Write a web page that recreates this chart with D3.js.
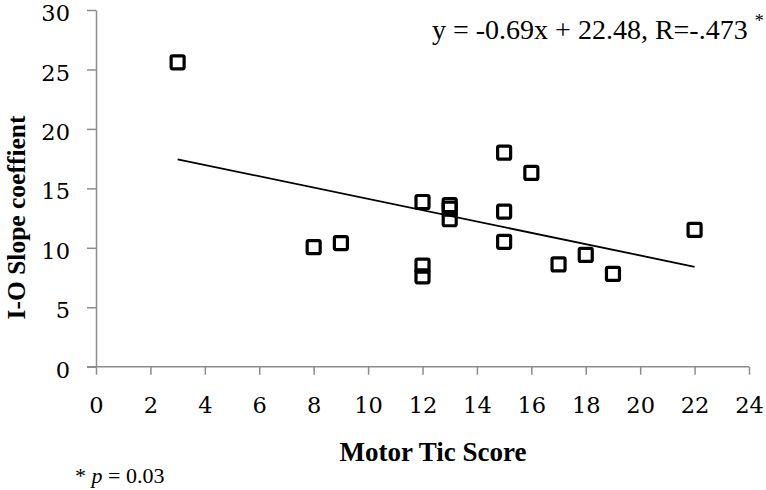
<!DOCTYPE html>
<html>
<head>
<meta charset="utf-8">
<script src="https://cdn.jsdelivr.net/npm/d3@7"></script>
<style>
  body { margin: 0; background: #fff; }
  svg { display: block; }
</style>
</head>
<body>
<svg id="chart" width="766" height="490"></svg>
<script>
// Data
const motorTic = [3, 8, 9, 12, 12, 12, 13, 13, 13, 15, 15, 15, 16, 17, 18, 19, 22];
const ioSlope = [25.6, 10.05, 10.4, 13.85, 8.5, 7.6, 13.6, 13.3, 12.4, 18.0, 13.05, 10.5, 16.3, 8.6, 9.4, 7.8, 11.5];
const xTicks = [0, 2, 4, 6, 8, 10, 12, 14, 16, 18, 20, 22, 24];
const yTicks = [0, 5, 10, 15, 20, 25, 30];
const equationText = "y = -0.69x + 22.48, R=-.473";

const svg = d3.select("#chart");

const x = d3.scaleLinear().domain([0, 24]).range([96, 749]);
const y = d3.scaleLinear().domain([0, 30]).range([366.7, 10]);

const axisColor = "#8c8c8c";

// X axis
const xAxis = svg.append("g")
  .attr("transform", `translate(0, ${y(0)})`)
  .call(d3.axisBottom(x).tickValues(xTicks).tickSize(8).tickSizeOuter(0).tickPadding(22));

// Y axis
const yAxis = svg.append("g")
  .attr("transform", `translate(${x(0)}, 0)`)
  .call(d3.axisLeft(y).tickValues(yTicks).tickSize(9).tickSizeOuter(0).tickPadding(17));

[xAxis, yAxis].forEach(g => {
  g.select(".domain").attr("stroke", axisColor).attr("stroke-width", 1.5);
  g.selectAll(".tick line").attr("stroke", axisColor).attr("stroke-width", 1.5);
  g.selectAll(".tick text")
    .attr("fill", "#000")
    .style("font-family", "'DejaVu Serif', serif")
    .style("font-size", "22.5px");
});
// y=0 tick runs across, so extend x axis line left to the tick end
xAxis.select(".domain").attr("d", `M${x(0) - 9},0H${x(24)}`);
yAxis.selectAll(".tick text").attr("dy", "0.47em");

// Trend line: least squares fit of the points
const n = motorTic.length;
const mx = d3.mean(motorTic);
const my = d3.mean(ioSlope);
let sxy = 0, sxx = 0;
for (let i = 0; i < n; i++) {
  sxy += (motorTic[i] - mx) * (ioSlope[i] - my);
  sxx += (motorTic[i] - mx) * (motorTic[i] - mx);
}
const slope = sxy / sxx;
const intercept = my - slope * mx;
const x0 = d3.min(motorTic), x1 = d3.max(motorTic);

svg.append("line")
  .attr("x1", x(x0)).attr("y1", y(intercept + slope * x0))
  .attr("x2", x(x1)).attr("y2", y(intercept + slope * x1))
  .attr("stroke", "#000")
  .attr("stroke-width", 1.8);

// Points - open squares
const size = 13;
svg.append("g")
  .selectAll("rect")
  .data(motorTic.map((d, i) => ({ x: d, y: ioSlope[i] })))
  .enter()
  .append("rect")
  .attr("x", d => x(d.x) - size / 2)
  .attr("y", d => y(d.y) - size / 2)
  .attr("width", size)
  .attr("height", size)
  .attr("rx", 1.5)
  .attr("fill", "none")
  .attr("stroke", "#000")
  .attr("stroke-width", 3.2);

// Equation
const eq = svg.append("text")
  .attr("x", 432)
  .attr("y", 39)
  .style("font-family", "'Liberation Serif', 'Times New Roman', serif")
  .style("font-size", "28px")
  .text(equationText);
eq.append("tspan")
  .attr("dx", 7)
  .attr("dy", -12)
  .style("font-size", "18px")
  .text("*");

// Axis titles
svg.append("text")
  .attr("x", 433)
  .attr("y", 461)
  .attr("text-anchor", "middle")
  .style("font-family", "'Liberation Serif', 'Times New Roman', serif")
  .style("font-weight", "bold")
  .style("font-size", "27px")
  .text("Motor Tic Score");

svg.append("text")
  .attr("transform", `translate(24.5, ${(105 + 330) / 2}) rotate(-90)`)
  .attr("text-anchor", "middle")
  .style("font-family", "'Liberation Serif', 'Times New Roman', serif")
  .style("font-weight", "bold")
  .style("font-size", "25.5px")
  .text("I-O Slope coeffient");

// Footnote
const note = svg.append("text")
  .attr("x", 75)
  .attr("y", 483)
  .style("font-family", "'Liberation Serif', 'Times New Roman', serif")
  .style("font-size", "22px");
note.append("tspan").text("* ");
note.append("tspan").style("font-style", "italic").text("p");
note.append("tspan").text(" = 0.03");
</script>
</body>
</html>
